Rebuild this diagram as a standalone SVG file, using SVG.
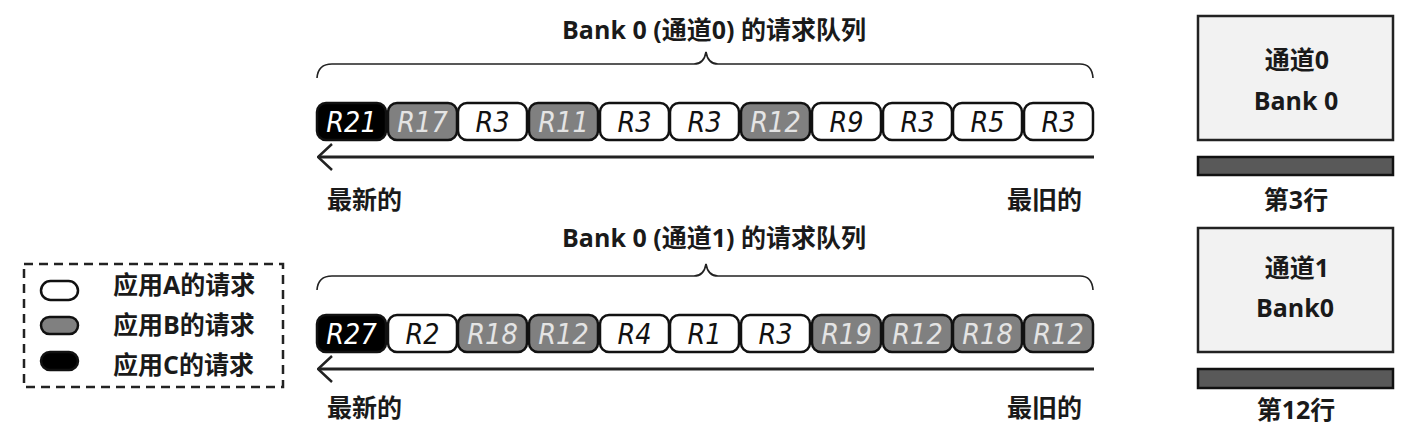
<svg xmlns="http://www.w3.org/2000/svg" width="1414" height="434" viewBox="0 0 1414 434">
<style>
.t{font-family:"Open Sans","Noto Sans CJK SC",sans-serif;font-weight:bold;font-size:25px;fill:#1a1a1a}
.r{font-family:"DejaVu Sans Condensed","DejaVu Sans",sans-serif;font-style:italic;font-size:28.5px;text-anchor:middle}
.bx{stroke:#111;stroke-width:2.5}
.A{fill:#fff}.B{fill:#808080}.C{fill:#000}
.tA{fill:#111}.tB{fill:#e4e4e4}.tC{fill:#fff}
.brace{fill:none;stroke:#222;stroke-width:1.6}
.arr{fill:none;stroke:#222;stroke-width:3}
.mid{text-anchor:middle}
</style>
<defs>
<marker id="ah" viewBox="0 0 16 28" refX="15" refY="14" markerWidth="16" markerHeight="28" markerUnits="userSpaceOnUse" orient="auto">
<path d="M1,1 L15,14 L1,27" fill="none" stroke="#222" stroke-width="2.5"/>
</marker>
</defs>

<g id="queue0">
<text class="t mid" x="714" y="39">Bank 0 (通道0) 的请求队列</text>
<path class="brace" d="M317,78 Q318,64 332,64 L694,64 Q704,64 706,52 Q708,64 718,64 L1080,64 Q1092,64 1093,78"/>
<g id="q0-boxes">
<rect class="bx C" x="317" y="103" width="69" height="37" rx="9"/><text class="r tC" x="351.5" y="132">R21</text>
<rect class="bx B" x="388" y="103" width="69" height="37" rx="9"/><text class="r tB" x="422.5" y="132">R17</text>
<rect class="bx A" x="458" y="103" width="69" height="37" rx="9"/><text class="r tA" x="492.5" y="132">R3</text>
<rect class="bx B" x="529" y="103" width="69" height="37" rx="9"/><text class="r tB" x="563.5" y="132">R11</text>
<rect class="bx A" x="600" y="103" width="69" height="37" rx="9"/><text class="r tA" x="634.5" y="132">R3</text>
<rect class="bx A" x="670" y="103" width="69" height="37" rx="9"/><text class="r tA" x="704.5" y="132">R3</text>
<rect class="bx B" x="741" y="103" width="69" height="37" rx="9"/><text class="r tB" x="775.5" y="132">R12</text>
<rect class="bx A" x="812" y="103" width="69" height="37" rx="9"/><text class="r tA" x="846.5" y="132">R9</text>
<rect class="bx A" x="883" y="103" width="69" height="37" rx="9"/><text class="r tA" x="917.5" y="132">R3</text>
<rect class="bx A" x="953" y="103" width="69" height="37" rx="9"/><text class="r tA" x="987.5" y="132">R5</text>
<rect class="bx A" x="1024" y="103" width="69" height="37" rx="9"/><text class="r tA" x="1058.5" y="132">R3</text>
</g>
<text class="t" x="327" y="209">最新的</text>
<text class="t" x="1007" y="209">最旧的</text>
</g>

<g id="queue1">
<text class="t mid" x="714" y="247">Bank 0 (通道1) 的请求队列</text>
<path class="brace" d="M317,290 Q318,276 332,276 L694,276 Q704,276 706,264 Q708,276 718,276 L1080,276 Q1092,276 1093,290"/>
<g id="q1-boxes">
<rect class="bx C" x="317" y="315" width="69" height="37" rx="9"/><text class="r tC" x="351.5" y="344">R27</text>
<rect class="bx A" x="388" y="315" width="69" height="37" rx="9"/><text class="r tA" x="422.5" y="344">R2</text>
<rect class="bx B" x="458" y="315" width="69" height="37" rx="9"/><text class="r tB" x="492.5" y="344">R18</text>
<rect class="bx B" x="529" y="315" width="69" height="37" rx="9"/><text class="r tB" x="563.5" y="344">R12</text>
<rect class="bx A" x="600" y="315" width="69" height="37" rx="9"/><text class="r tA" x="634.5" y="344">R4</text>
<rect class="bx A" x="670" y="315" width="69" height="37" rx="9"/><text class="r tA" x="704.5" y="344">R1</text>
<rect class="bx A" x="741" y="315" width="69" height="37" rx="9"/><text class="r tA" x="775.5" y="344">R3</text>
<rect class="bx B" x="812" y="315" width="69" height="37" rx="9"/><text class="r tB" x="846.5" y="344">R19</text>
<rect class="bx B" x="883" y="315" width="69" height="37" rx="9"/><text class="r tB" x="917.5" y="344">R12</text>
<rect class="bx B" x="953" y="315" width="69" height="37" rx="9"/><text class="r tB" x="987.5" y="344">R18</text>
<rect class="bx B" x="1024" y="315" width="69" height="37" rx="9"/><text class="r tB" x="1058.5" y="344">R12</text>
</g>
<text class="t" x="327" y="417">最新的</text>
<text class="t" x="1007" y="417">最旧的</text>
</g>

<g id="connectors">
<path class="arr" d="M1094,157 L318,157" marker-end="url(#ah)"/>
<path class="arr" d="M1094,369 L318,369" marker-end="url(#ah)"/>
</g>

<g id="bank-ch0">
<rect x="1198" y="16" width="195" height="124" fill="#f2f2f2" stroke="#222" stroke-width="2.5"/>
<text class="t mid" x="1297" y="69">通道0</text>
<text class="t mid" x="1296" y="110">Bank 0</text>
<rect x="1198" y="157" width="195" height="18" fill="#595959" stroke="#111" stroke-width="2.5"/>
<text class="t mid" x="1296" y="209">第3行</text>
</g>
<g id="bank-ch1">
<rect x="1198" y="228" width="195" height="124" fill="#f2f2f2" stroke="#222" stroke-width="2.5"/>
<text class="t mid" x="1297" y="277">通道1</text>
<text class="t mid" x="1295" y="317">Bank0</text>
<rect x="1198" y="369" width="195" height="19" fill="#595959" stroke="#111" stroke-width="2.5"/>
<text class="t mid" x="1296" y="419">第12行</text>
</g>

<g id="legend">
<rect x="24" y="264" width="259" height="123" fill="none" stroke="#222" stroke-width="2.5" stroke-dasharray="9,6"/>
<rect class="bx A" x="41" y="281" width="37" height="19" rx="9.5"/>
<rect class="bx B" x="41" y="317" width="37" height="17" rx="8.5"/>
<rect class="bx C" x="41" y="352" width="37" height="18" rx="9"/>
<text class="t" x="113" y="294">应用A的请求</text>
<text class="t" x="113" y="334">应用B的请求</text>
<text class="t" x="113" y="374">应用C的请求</text>
</g>
</svg>
